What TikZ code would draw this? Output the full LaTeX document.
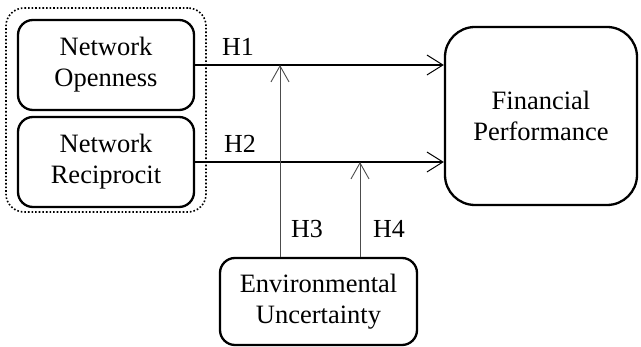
\documentclass[tikz,border=0pt]{standalone}
\usepackage{fontspec}
\setmainfont{Liberation Serif}
\usetikzlibrary{arrows.meta}
\begin{document}
\begin{tikzpicture}[x=1pt,y=-1pt,
  box/.style={draw,line width=2.3pt,rounded corners=15pt,inner sep=0pt,align=center,font=\fontsize{26.5}{31}\selectfont},
  hline/.style={line width=1.2pt,-{Straight Barb[length=16pt,width=20pt,line width=1pt]}},
  vline/.style={line width=0.9pt,draw=black!70,-{Straight Barb[length=16pt,width=18pt,line width=0.9pt]}},
  lab/.style={font=\fontsize{26}{30}\selectfont,inner sep=0pt}]
\useasboundingbox (0,0) rectangle (641,347);
\node[box,minimum width=176pt,minimum height=90pt] (no) at (106,65) {Network\\Openness};
\node[box,minimum width=176pt,minimum height=90pt] (nr) at (106,162) {Network\\Reciprocit};
\node[draw,dotted,line width=1.6pt,rounded corners=18pt,minimum width=200pt,minimum height=204pt,inner sep=0pt] (grp) at (106,110) {};
\node[box,rounded corners=30pt,minimum width=192pt,minimum height=178pt] (fp) at (541,116) {Financial\\Performance};
\node[box,minimum width=197pt,minimum height=87pt] (eu) at (318.5,301.5) {Environmental\\Uncertainty};
\coordinate (v3) at (280,0);
\coordinate (v4) at (360,0);
\draw[hline] (no.east) -- (no.east -| fp.west);
\draw[hline] (nr.east) -- (nr.east -| fp.west);
\draw[vline] (v3 |- eu.north) -- (v3 |- no.east);
\draw[vline] (v4 |- eu.north) -- (v4 |- nr.east);
\node[lab] (h1) at (238,47) {H1};
\node[lab] (h2) at (240,144) {H2};
\node[lab] (h3) at (307,229) {H3};
\node[lab] (h4) at (389,229) {H4};
\end{tikzpicture}
\end{document}
